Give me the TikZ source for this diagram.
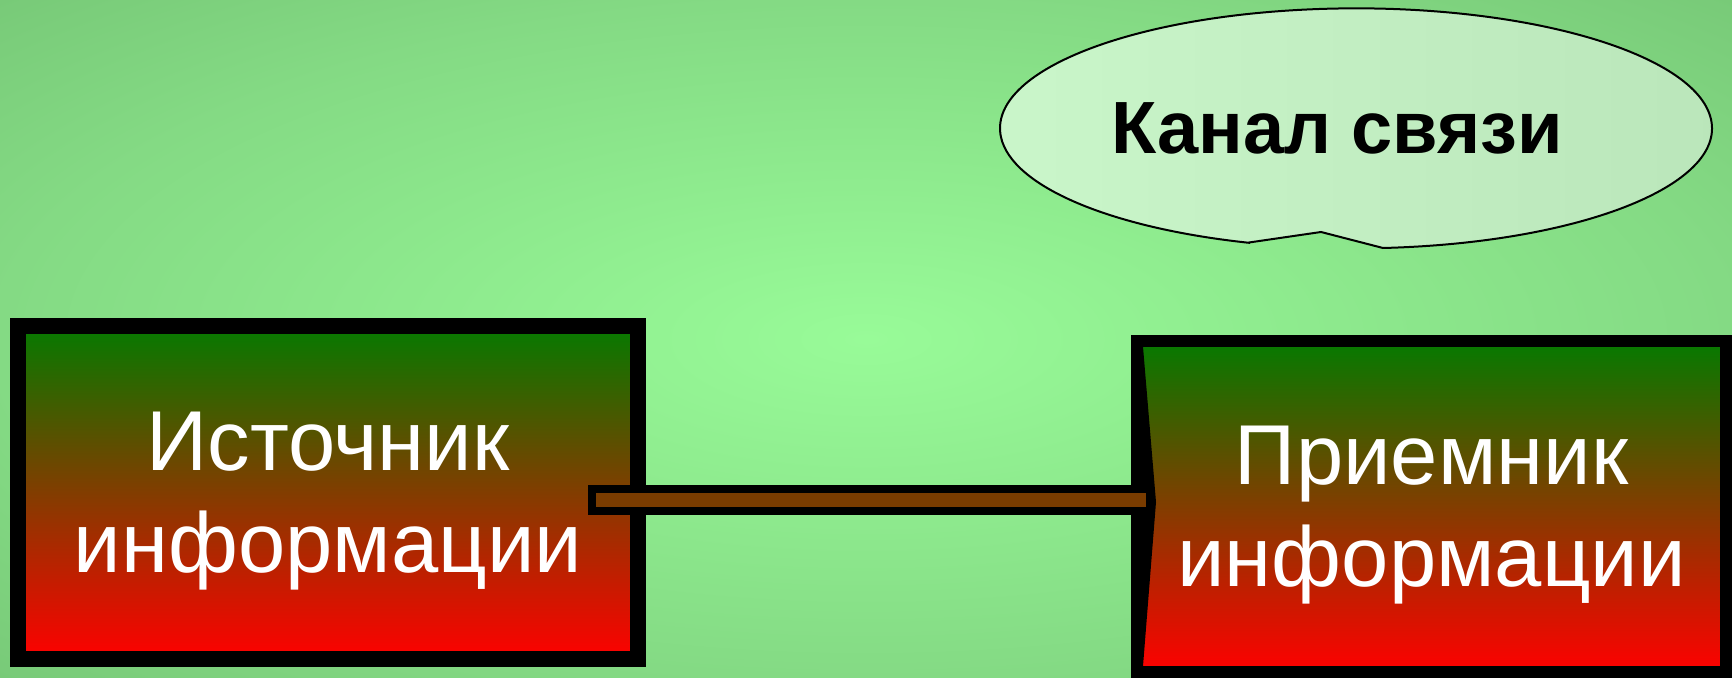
\documentclass[tikz,border=0pt]{standalone}
\usepackage{fontspec}
\setmainfont{Liberation Sans}
\usepackage{tikz}
\usetikzlibrary{calc}
\definecolor{bgmid}{RGB}{152,251,152}
\definecolor{bgedge}{RGB}{132,218,132}
\definecolor{bgcorner}{RGB}{120,202,120}
\definecolor{boxtop}{RGB}{5,122,0}
\definecolor{boxbot}{RGB}{255,0,0}
\definecolor{pipe}{RGB}{122,60,0}
\definecolor{cloudl}{RGB}{202,246,202}
\definecolor{cloudr}{RGB}{186,230,186}
\pgfdeclareradialshading{bgglow}{\pgfpoint{0bp}{0bp}}{color(0bp)=(bgmid); color(25bp)=(bgedge); color(35.4bp)=(bgcorner); color(50bp)=(bgcorner)}

\begin{document}
\begin{tikzpicture}[x=0.5pt, y=-0.5pt,
    infobox/.style={rectangle, draw=black, top color=boxtop, bottom color=boxbot, text=white, align=center, text depth=0pt, font=\fontsize{42.5}{51}\selectfont},
    channel/.style={draw=black, line width=4pt, fill=pipe},
    bubble/.style={draw=black, line width=1pt, left color=cloudl, right color=cloudr}]

  \shade[shading=bgglow] (0,0) rectangle (1732,678);
  \useasboundingbox (0,0) rectangle (1732,678);

  \node[infobox, line width=8pt, minimum width=310pt, minimum height=166.5pt] (src) at (328,492.5) {Источник\\информации};
  \node[infobox, line width=6pt, minimum width=294.5pt, minimum height=165.5pt] (dst) at (1431.5,506.5) {Приемник\\информации};
  \fill ($(dst.north west)+(12,12)$) -- ($(dst.west)+(25,-4.5)$) -- ($(dst.south west)+(12,-12)$) -- cycle;

  \draw[channel] ($(src.east)+(-54,-3.5)$) rectangle ($(dst.west)+(19,4.5)$);

  %КАНАЛ СВЯЗИ
  \draw[bubble] (1249,242.5) -- (1321,232) -- (1383,248) arc[start angle=85.65, end angle=-252.5, x radius=356, y radius=120] -- cycle;
  \node[font=\bfseries\fontsize{37}{44}\selectfont] (chan) at (1337,128) {Канал связи};
\end{tikzpicture}
\end{document}
